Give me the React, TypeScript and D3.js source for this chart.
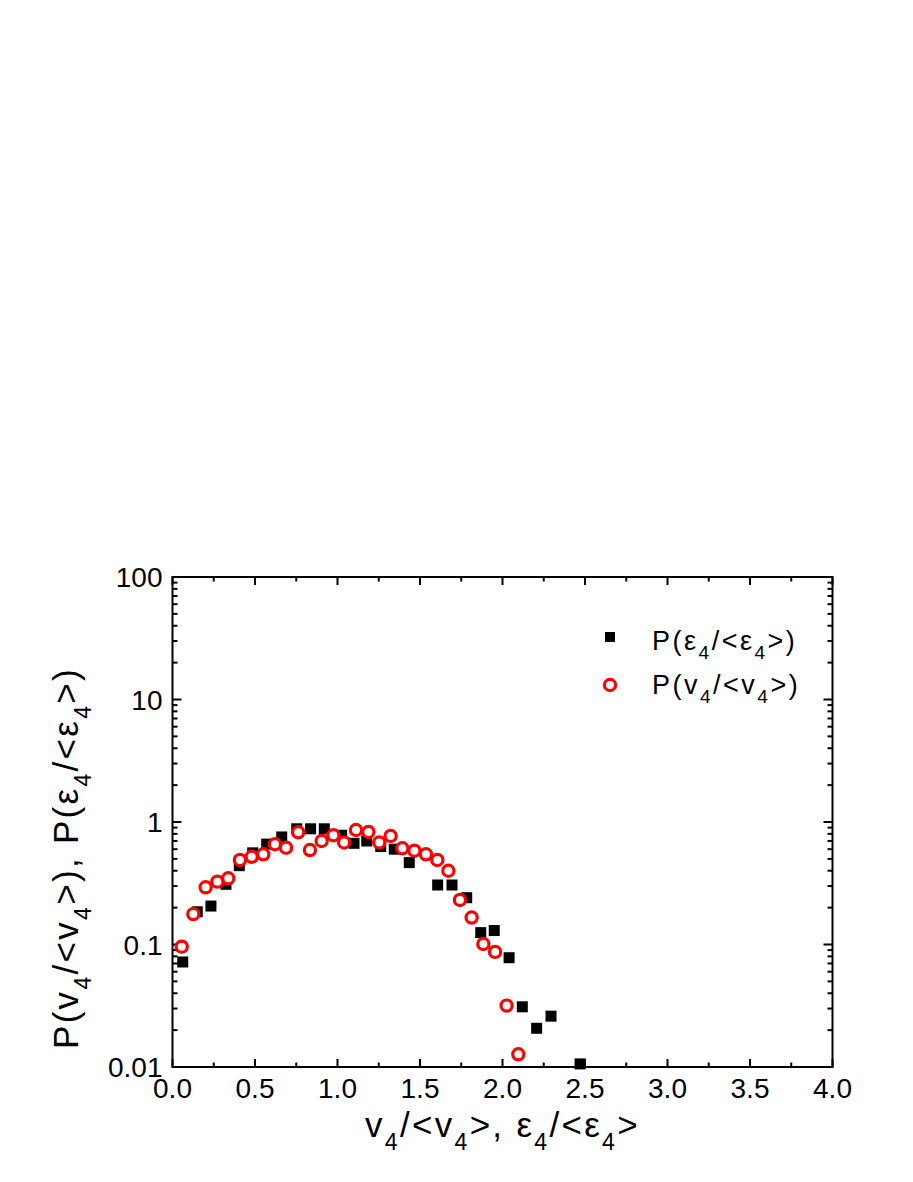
import * as d3 from "d3";

const W = 913;
const H = 1182;
const MARGIN = { top: 577, right: 80.5, bottom: 115, left: 172.5 };

// P(eps4/<eps4>) - black squares
const epsX = [0.062, 0.15, 0.233, 0.324, 0.405, 0.486, 0.571, 0.662, 0.753, 0.837, 0.92, 1.025, 1.1, 1.177, 1.262, 1.344, 1.435, 1.607, 1.694, 1.783, 1.868, 1.95, 2.04, 2.12, 2.207, 2.294, 2.47];
const epsY = [0.072, 0.185, 0.206, 0.31, 0.44, 0.56, 0.66, 0.755, 0.88, 0.88, 0.88, 0.78, 0.67, 0.7, 0.63, 0.6, 0.466, 0.306, 0.306, 0.241, 0.125, 0.13, 0.078, 0.031, 0.0207, 0.026, 0.0106];

// P(v4/<v4>) - red open circles
const vX = [0.056, 0.126, 0.201, 0.272, 0.338, 0.409, 0.48, 0.55, 0.621, 0.688, 0.762, 0.833, 0.904, 0.975, 1.04, 1.112, 1.187, 1.253, 1.322, 1.393, 1.466, 1.536, 1.605, 1.672, 1.742, 1.813, 1.884, 1.955, 2.025, 2.096];
const vY = [0.096, 0.177, 0.293, 0.326, 0.347, 0.49, 0.52, 0.545, 0.658, 0.617, 0.824, 0.59, 0.7, 0.78, 0.68, 0.86, 0.83, 0.68, 0.77, 0.61, 0.583, 0.545, 0.49, 0.4, 0.231, 0.166, 0.101, 0.087, 0.0317, 0.0127];

const xTicks = [0, 0.5, 1, 1.5, 2, 2.5, 3, 3.5, 4];
const xMinor = [0.25, 0.75, 1.25, 1.75, 2.25, 2.75, 3.25, 3.75];
const yTicks = [0.01, 0.1, 1, 10, 100];
const yTickLabels = ["0.01", "0.1", "1", "10", "100"];

const FONT = "'Liberation Sans', Arial, sans-serif";

type Part = { t: string; sub?: boolean };

function RichText(props: { parts: Part[]; size: number; subSize: number; shift: number }) {
  const out: any[] = [];
  let down = false;
  props.parts.forEach((p, i) => {
    let dy = 0;
    if (p.sub && !down) { dy = props.shift; down = true; }
    else if (!p.sub && down) { dy = -props.shift; down = false; }
    out.push(
      <tspan key={i} dy={dy} fontSize={p.sub ? props.subSize : props.size}>{p.t}</tspan>
    );
  });
  return <>{out}</>;
}

const titleX: Part[] = [
  { t: "v" }, { t: "4", sub: true }, { t: "/<v" }, { t: "4", sub: true }, { t: ">, \u03b5" },
  { t: "4", sub: true }, { t: "/<\u03b5" }, { t: "4", sub: true }, { t: ">" },
];
const titleY: Part[] = [
  { t: "P(v" }, { t: "4", sub: true }, { t: "/<v" }, { t: "4", sub: true }, { t: ">), P(\u03b5" },
  { t: "4", sub: true }, { t: "/<\u03b5" }, { t: "4", sub: true }, { t: ">)" },
];
const legEps: Part[] = [{ t: "P(\u03b5" }, { t: "4", sub: true }, { t: "/<\u03b5" }, { t: "4", sub: true }, { t: ">)" }];
const legV: Part[] = [{ t: "P(v" }, { t: "4", sub: true }, { t: "/<v" }, { t: "4", sub: true }, { t: ">)" }];

export default function App() {
  const x = d3.scaleLinear().domain([0, 4]).range([MARGIN.left, W - MARGIN.right]);
  const y = d3.scaleLog().domain([0.01, 100]).range([H - MARGIN.bottom, MARGIN.top]);
  const [x0, x1] = x.range();
  const [yb, yt] = y.range();

  const yMinor: number[] = [];
  yTicks.slice(0, -1).forEach((d) => {
    for (let k = 2; k <= 9; k++) yMinor.push(d * k);
  });

  const sq = 11;
  const stroke = "#000";

  return (
    <div style={{ position: "absolute", left: 0, top: 0 }}>
      <svg width={W} height={H} style={{ display: "block", background: "#fff" }} fontFamily={FONT}>
        {/* ticks */}
        <g stroke={stroke} strokeWidth={2}>
          {xTicks.map((d) => (
            <g key={"xt" + d}>
              <line x1={x(d)} x2={x(d)} y1={yb} y2={yb - 8} />
              <line x1={x(d)} x2={x(d)} y1={yt} y2={yt + 8} />
            </g>
          ))}
          {xMinor.map((d) => (
            <g key={"xm" + d}>
              <line x1={x(d)} x2={x(d)} y1={yb} y2={yb - 4.5} />
              <line x1={x(d)} x2={x(d)} y1={yt} y2={yt + 4.5} />
            </g>
          ))}
          {yTicks.map((d) => (
            <g key={"yt" + d}>
              <line x1={x0} x2={x0 + 9} y1={y(d)} y2={y(d)} />
              <line x1={x1} x2={x1 - 9} y1={y(d)} y2={y(d)} />
            </g>
          ))}
          {yMinor.map((d) => (
            <g key={"ym" + d}>
              <line x1={x0} x2={x0 + 5} y1={y(d)} y2={y(d)} />
              <line x1={x1} x2={x1 - 5} y1={y(d)} y2={y(d)} />
            </g>
          ))}
        </g>
        <rect x={x0} y={yt} width={x1 - x0} height={yb - yt} fill="none" stroke={stroke} strokeWidth={2} />

        {/* tick labels */}
        {xTicks.map((d) => (
          <text key={"xl" + d} x={x(d)} y={yb + 31} textAnchor="middle" fontSize={28}>
            {d.toFixed(1)}
          </text>
        ))}
        {yTicks.map((d, i) => (
          <text key={"yl" + d} x={x0 - 10} y={y(d) + 10} textAnchor="end" fontSize={28}>
            {yTickLabels[i]}
          </text>
        ))}

        {/* data */}
        {epsX.map((d, i) => (
          <rect key={"s" + i} x={x(d) - sq / 2} y={y(epsY[i]) - sq / 2} width={sq} height={sq} fill="#000" />
        ))}
        {vX.map((d, i) => (
          <circle key={"c" + i} cx={x(d)} cy={y(vY[i])} r={5.6} fill="#fff" stroke="#ff0000" strokeWidth={3.2} />
        ))}

        {/* legend */}
        <rect x={605} y={632} width={10} height={10} fill="#000" />
        <text x={652} y={650} fontSize={27} style={{ letterSpacing: "2.5px" }}>
          <RichText parts={legEps} size={27} subSize={19} shift={9} />
        </text>
        <circle cx={610} cy={685} r={5.6} fill="#fff" stroke="#ff0000" strokeWidth={3.2} />
        <text x={652} y={694} fontSize={27} style={{ letterSpacing: "2.5px" }}>
          <RichText parts={legV} size={27} subSize={19} shift={9} />
        </text>

        {/* axis titles */}
        <text x={(x0 + x1) / 2} y={1137} textAnchor="middle" fontSize={35} style={{ letterSpacing: "2.3px" }}>
          <RichText parts={titleX} size={35} subSize={23} shift={13} />
        </text>
        <text transform="translate(78,858) rotate(-90)" textAnchor="middle" fontSize={35} style={{ letterSpacing: "2.3px" }}>
          <RichText parts={titleY} size={35} subSize={23} shift={13} />
        </text>
      </svg>
    </div>
  );
}
